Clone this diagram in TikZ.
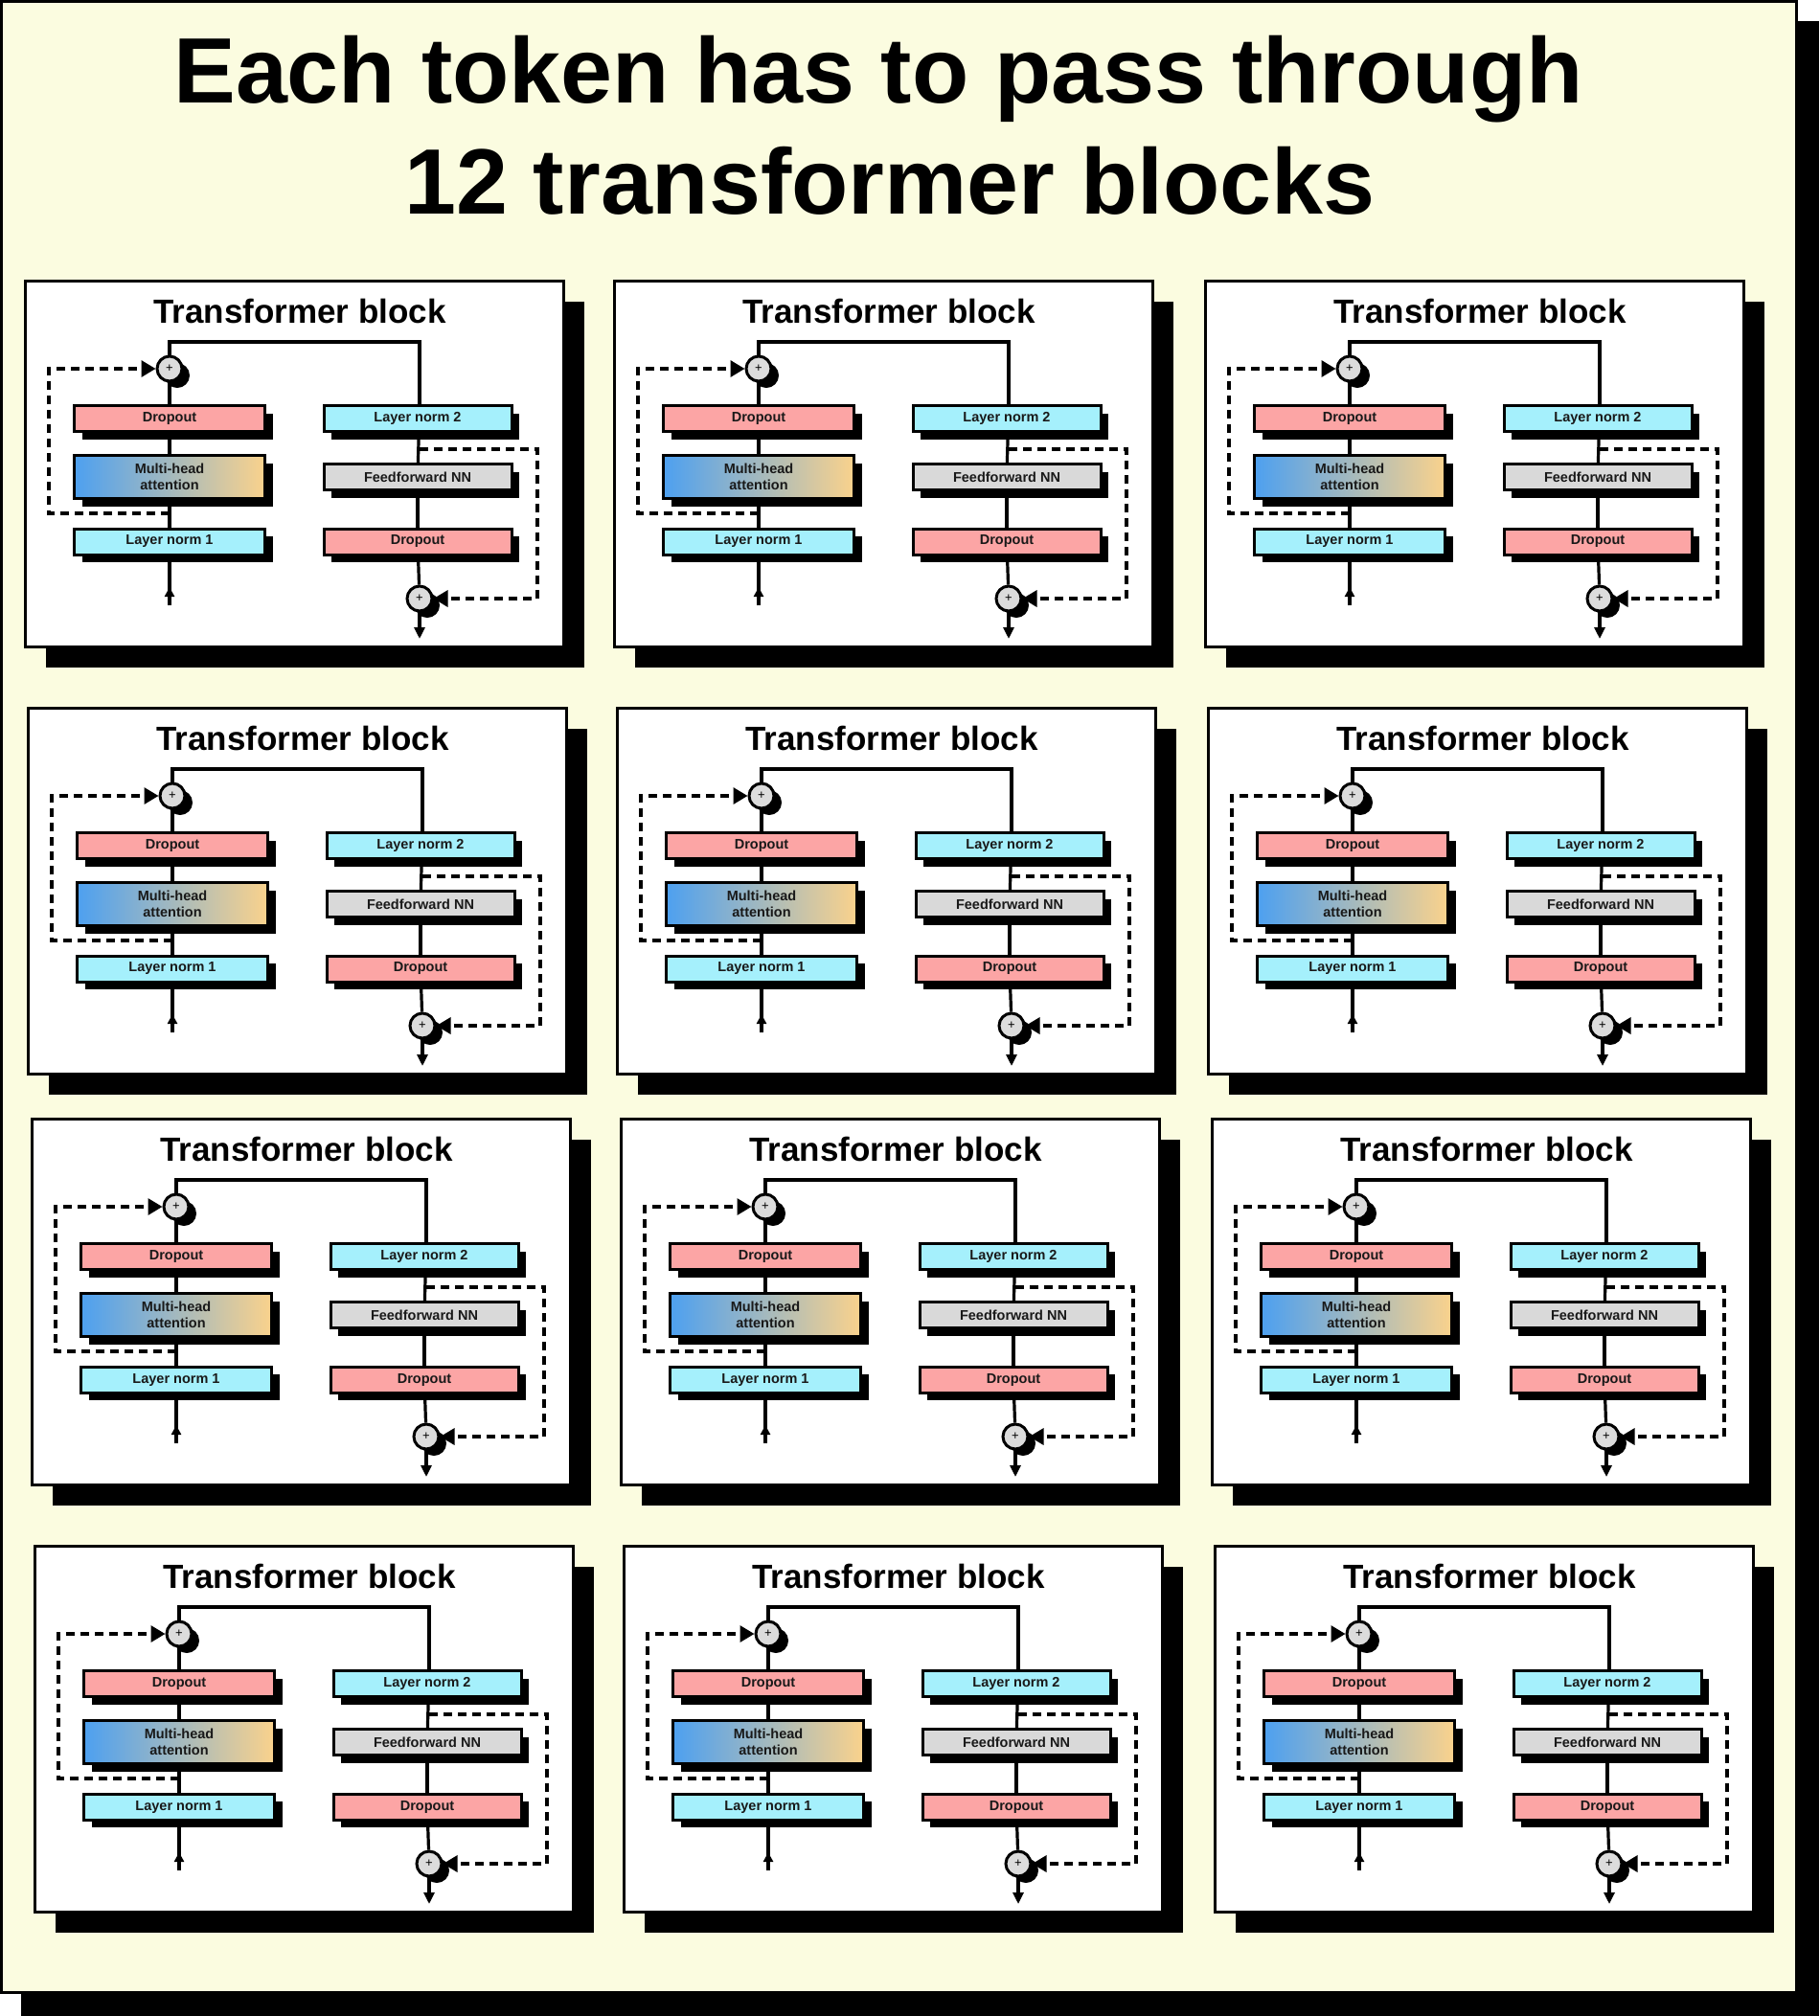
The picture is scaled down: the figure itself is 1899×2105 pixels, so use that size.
\documentclass[tikz,border=0pt]{standalone}
\usepackage{fontspec}
\setmainfont{Liberation Sans}
\usetikzlibrary{arrows.meta,shadows}
\definecolor{cream}{HTML}{FBFCE0}
\definecolor{pinkbox}{HTML}{FCA5A5}
\definecolor{cyanbox}{HTML}{A5F0FC}
\definecolor{graybox}{HTML}{D9D9D9}
\definecolor{mhablue}{HTML}{4DA0F0}
\definecolor{mhaorange}{HTML}{FAD28C}
\definecolor{circgray}{HTML}{DCDCDC}
\pgfdeclarelayer{back}
\pgfdeclarelayer{lines}
\pgfsetlayers{back,lines,main}
\tikzset{
  maintitle/.style={font=\fontsize{97}{110}\selectfont\bfseries, inner sep=0pt, anchor=base},
  btitle/.style={font=\fontsize{35}{40}\selectfont\bfseries, inner sep=0pt, anchor=base},
  blockframe/.style={draw=black, fill=white, line width=3pt, minimum width=562pt, minimum height=382pt, anchor=north west, inner sep=0pt,
    drop shadow={shadow xshift=21pt, shadow yshift=-21pt, opacity=1, fill=black}},
  boxsty/.style={draw=black, line width=3pt, minimum height=27pt, inner sep=0pt,
    font=\fontsize{14.5}{17}\selectfont\bfseries, text=black!90, align=center,
    drop shadow={shadow xshift=8pt, shadow yshift=-8pt, opacity=1, fill=black}},
  lbox/.style={boxsty, minimum width=199pt},
  rbox/.style={boxsty, minimum width=196pt},
  pinkb/.style={fill=pinkbox},
  cyanb/.style={fill=cyanbox},
  grayb/.style={fill=graybox},
  mhab/.style={left color=mhablue, right color=mhaorange, minimum height=45pt},
  circ/.style={circle, draw=black, line width=3pt, fill=circgray, minimum size=26pt, inner sep=0pt,
    font=\fontsize{13}{13}\selectfont,
    drop shadow={shadow xshift=8pt, shadow yshift=-7pt, opacity=1, fill=black}},
  conn/.style={draw=black, line width=3.2pt},
  dsh/.style={draw=black, line width=3.2pt, dash pattern=on 9pt off 6pt},
}
\newcommand{\tblock}[3]{%
\begin{scope}[shift={(#2,#3)}]
  \begin{pgfonlayer}{back}
    \node[blockframe] (#1f) at (0,0) {};
  \end{pgfonlayer}
  \node[btitle] (#1t) at (288,45) {Transformer block};
  \node[lbox, pinkb] (#1do1) at (152,145) {Dropout};
  \node[lbox, mhab] (#1mha) at (152,206) {Multi-head\\attention};
  \node[lbox, cyanb] (#1ln1) at (152,273.5) {Layer norm 1};
  \node[rbox, cyanb] (#1ln2) at (411,145) {Layer norm 2};
  \node[rbox, grayb] (#1ff) at (411,206) {Feedforward NN};
  \node[rbox, pinkb] (#1do2) at (411,273.5) {Dropout};
  \node[circ] (#1c1) at (152,93) {+};
  \node[circ] (#1c2) at (413,333) {+};
  \coordinate (#1top1) at (152,65);
  \coordinate (#1top2) at (413,65);
  \coordinate (#1ln2t) at (413,132);
  \coordinate (#1in) at (152,340);
  \coordinate (#1inTip) at (152,321);
  \coordinate (#1out) at (413,375);
  \coordinate (#1l1) at (152,244);
  \coordinate (#1la) at (26,244);
  \coordinate (#1lb) at (26,93);
  \coordinate (#1r1) at (413,177);
  \coordinate (#1ra) at (536,177);
  \coordinate (#1rb) at (536,333);
  \begin{pgfonlayer}{lines}
    \draw[conn] (#1c1) -- (#1top1) -- (#1top2) -- (#1ln2t);
    \draw[conn] (#1c1) -- (#1do1);
    \draw[conn] (#1do1) -- (#1mha);
    \draw[conn] (#1mha) -- (#1ln1);
    \draw[conn] (#1ln1) -- (#1in);
    \draw[conn, -{Triangle[length=10pt,width=10pt]}] (#1in) -- (#1inTip);
    \draw[conn] (#1ln2t) -- (#1ff);
    \draw[conn] (#1ff) -- (#1do2);
    \draw[conn] (#1do2) -- (#1c2);
    \draw[conn, -{Triangle[length=12pt,width=11pt]}] (#1c2) -- (#1out);
    \draw[dsh, -{Triangle[length=15pt,width=17pt]}] (#1l1) -- (#1la) -- (#1lb) -- (#1c1);
    \draw[dsh, -{Triangle[length=15pt,width=17pt]}] (#1r1) -- (#1ra) -- (#1rb) -- (#1c2);
  \end{pgfonlayer}
\end{scope}}
\begin{document}
\begin{tikzpicture}[x=1pt,y=-1pt]
  \useasboundingbox (0,0) rectangle (1899,2105);
  \begin{pgfonlayer}{back}
    \fill[black] (22,22) rectangle (1899,2105);
    \filldraw[fill=cream, draw=black, line width=3pt] (1.5,1.5) rectangle (1875.5,2080.5);
  \end{pgfonlayer}
  \node[maintitle] (title1) at (917,107) {Each token has to pass through};
  \node[maintitle] (title2) at (929,223) {12 transformer blocks};
  \tblock{a}{25}{292}\tblock{b}{640}{292}\tblock{c}{1257}{292}
  \tblock{d}{28}{738}\tblock{e}{643}{738}\tblock{f}{1260}{738}
  \tblock{g}{32}{1167}\tblock{h}{647}{1167}\tblock{i}{1264}{1167}
  \tblock{j}{35}{1613}\tblock{k}{650}{1613}\tblock{l}{1267}{1613}
\end{tikzpicture}
\end{document}
